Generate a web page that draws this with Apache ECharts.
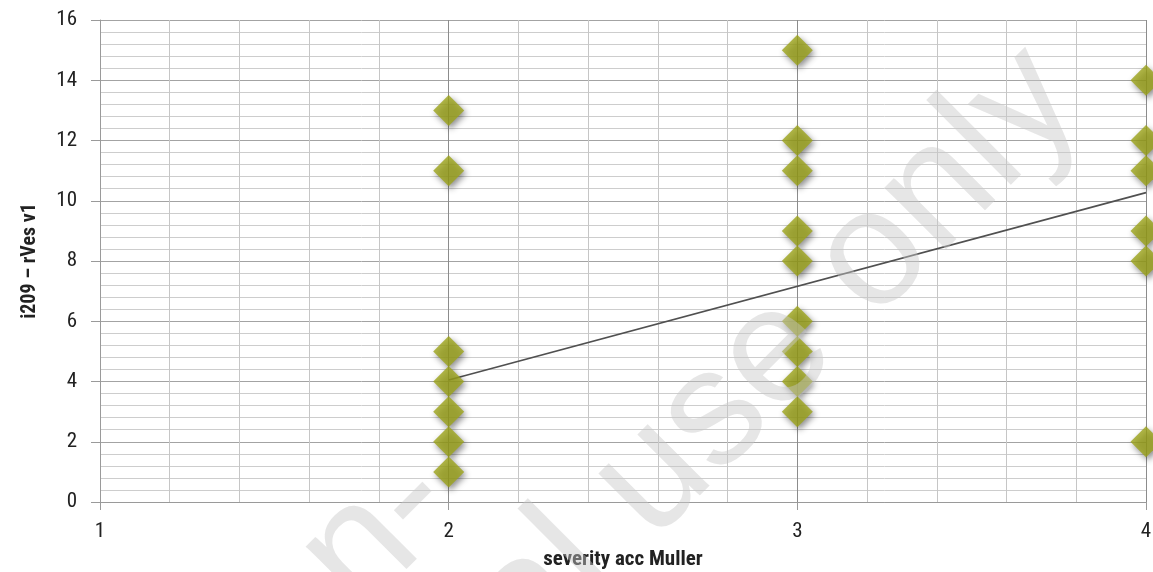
<!DOCTYPE html>
<html>
<head>
<meta charset="utf-8">
<script src="https://cdn.jsdelivr.net/npm/echarts@6/dist/echarts.min.js"></script>
<style>
  html, body { margin: 0; padding: 0; background: #ffffff; overflow: hidden; }
  #chart { width: 1153px; height: 572px; }
</style>
</head>
<body>
<div id="chart"></div>
<script>
// Scores per severity grade (Muller)
const severityLevels = [2, 3, 4];
const scoresSev2 = [13, 11, 5, 4, 3, 2, 1];
const scoresSev3 = [15, 12, 11, 9, 8, 6, 5, 4, 3];
const scoresSev4 = [14, 12, 11, 9, 8, 2];

// Linear trend line end points
const trendX = [2, 4];
const trendY = [4.05, 10.27];

// Axis ranges
const xRange = [1, 4];
const yRange = [0, 16];
const xStep = 1;
const yStep = 2;

const groups = [scoresSev2, scoresSev3, scoresSev4];
const points = [];
groups.forEach((scores, i) => {
  scores.forEach(v => points.push([severityLevels[i], v]));
});
const trendPoints = trendX.map((x, i) => [x, trendY[i]]);

const condensed = '"Roboto Condensed", "Liberation Sans Narrow", "Arial Narrow", sans-serif';
const watermarkFont = '165px "Liberation Sans", Arial, sans-serif';
const watermarkFill = 'rgba(200,200,200,0.45)';
const tilt = Math.PI / 4;

const chart = echarts.init(document.getElementById('chart'), null, { renderer: 'canvas' });

chart.setOption({
  animation: false,
  backgroundColor: '#ffffff',
  grid: { left: 100, right: 7, top: 20, bottom: 70, containLabel: false, outerBoundsMode: 'none' },
  xAxis: {
    type: 'value',
    min: xRange[0], max: xRange[1], interval: xStep,
    name: 'severity acc Muller',
    nameLocation: 'middle',
    nameGap: 47,
    nameTextStyle: { fontFamily: condensed, fontWeight: 'bold', fontSize: 21, color: '#222' },
    axisLine: { show: true, lineStyle: { color: '#9a9a9a', width: 1 } },
    axisTick: { show: true, length: 8, lineStyle: { color: '#9a9a9a' } },
    axisLabel: { fontFamily: condensed, fontSize: 21, color: '#222', margin: 19 },
    splitLine: { show: true, lineStyle: { color: '#8c8c8c', width: 1 } },
    minorTick: { show: false, splitNumber: 5 },
    minorSplitLine: { show: true, lineStyle: { color: '#c6c6c6', width: 1 } }
  },
  yAxis: {
    type: 'value',
    min: yRange[0], max: yRange[1], interval: yStep,
    name: 'i209 – rVes v1',
    nameLocation: 'middle',
    nameGap: 60,
    nameTextStyle: { fontFamily: condensed, fontWeight: 'bold', fontSize: 20, color: '#222' },
    axisLine: { show: true, lineStyle: { color: '#9a9a9a', width: 1 } },
    axisTick: { show: true, length: 9, lineStyle: { color: '#9a9a9a' } },
    axisLabel: { fontFamily: condensed, fontSize: 21, color: '#222', margin: 23 },
    splitLine: { show: true, lineStyle: { color: '#a3a3a3', width: 1 } },
    minorTick: { show: false, splitNumber: 5 },
    minorSplitLine: { show: true, lineStyle: { color: '#cdcdcd', width: 1 } }
  },
  series: [
    {
      type: 'line',
      data: trendPoints,
      symbol: 'none',
      z: 2,
      lineStyle: { color: '#505050', width: 1.6 },
      silent: true
    },
    {
      type: 'scatter',
      data: points,
      symbol: 'diamond',
      symbolSize: [31, 31],
      z: 3,
      itemStyle: {
        color: '#9ca41a',
        shadowColor: 'rgba(0,0,0,0.55)',
        shadowBlur: 6,
        shadowOffsetX: 2,
        shadowOffsetY: 3
      }
    }
  ],
  graphic: [
    {
      type: 'text',
      x: 431, y: 480,
      rotation: tilt,
      z: 100,
      silent: true,
      style: {
        text: 'Non-',
        font: watermarkFont,
        fill: watermarkFill,
        textAlign: 'right',
        textVerticalAlign: 'middle'
      }
    },
    {
      type: 'text',
      x: 1055, y: 76,
      rotation: tilt,
      z: 100,
      silent: true,
      style: {
        text: 'commercial use only',
        font: watermarkFont,
        fill: watermarkFill,
        textAlign: 'right',
        textVerticalAlign: 'middle'
      }
    }
  ]
});
</script>
</body>
</html>
